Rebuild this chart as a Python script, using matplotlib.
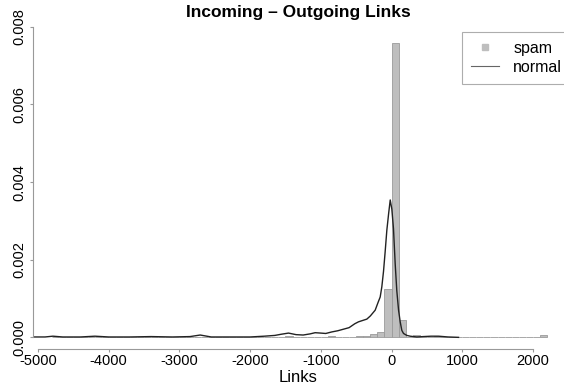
import numpy as np
import matplotlib
matplotlib.use('Agg')
import matplotlib.pyplot as plt
from matplotlib.lines import Line2D

plt.rcParams['font.family'] = ['Liberation Sans', 'DejaVu Sans']

# histogram of spam pages: bins of width 100 starting at -4800
bin_left = np.arange(-4800, 2200, 100)
spam_density = [
    0, 0, 0, 0, 0, 0, 0, 0, 0, 0,
    0, 0, 0, 0, 0, 0, 0, 0, 0, 0,
    0, 0, 0, 0, 0, 0, 0, 0, 0, 0,
    0, 0, 0, 0.00003, 0, 0.00002, 0, 0, 0, 0.00003,
    0, 0, 0, 0.00003, 0.00003, 0.00008, 0.00014, 0.00124, 0.00758, 0.00044,
    0, 0.00007, 0, 0, 0.00004, 0, 0, 0, 0, 0,
    0, 0, 0, 0, 0, 0, 0, 0, 0, 0.00005,
]

# density estimate for normal pages
normal_x = [-5070, -4900, -4790, -4650, -4400, -4195, -4000, -3700, -3400, -3100,
            -2850, -2706, -2550, -2300, -2000, -1800, -1650, -1560, -1457, -1350,
            -1250, -1150, -1080, -1000, -930, -844, -760, -680, -600, -520,
            -467, -400, -349, -300, -231, -190, -160, -137, -113, -90,
            -66, -40, -18, 5, 28, 52, 75, 100, 123, 146,
            170, 217, 264, 358, 450, 560, 665, 800, 948]
normal_y = [0.00001, 0.00001, 0.00003, 0.00001, 0.00001, 0.00003, 0.00001, 0.00001, 0.00002, 0.00001,
            0.00002, 0.00006, 0.00001, 0.00001, 0.00001, 0.00003, 0.00005, 0.00008, 0.00011, 0.00007,
            0.00006, 0.00009, 0.00012, 0.00011, 0.00010, 0.00014, 0.00017, 0.00021, 0.00025, 0.00035,
            0.0004, 0.00044, 0.00047, 0.00055, 0.0007, 0.0009, 0.00104, 0.0013, 0.0017, 0.0022,
            0.00276, 0.0032, 0.00354, 0.0033, 0.0028, 0.0019, 0.0012, 0.0007, 0.0004, 0.00018,
            0.0001, 0.00005, 0.00003, 0.00001, 0.00002, 0.00003, 0.00003, 0.00001, 0.0]

x_ticks = [-5000, -4000, -3000, -2000, -1000, 0, 1000, 2000]
y_ticks = [0.000, 0.002, 0.004, 0.006, 0.008]

fig = plt.figure(figsize=(5.64, 3.92), dpi=100)
ax = fig.add_axes([33 / 564, 1 - 349 / 392, 531 / 564, 326 / 392])

ax.bar(bin_left, spam_density, width=100, align='edge', color='#BEBEBE',
       edgecolor='#9A9A9A', linewidth=0.6)
ax.plot(normal_x, normal_y, color='#222222', linewidth=1.0)

ax.set_xlim(-5071, 2440)
ax.set_ylim(-0.0003, 0.0081)

for s in ['top', 'right']:
    ax.spines[s].set_visible(False)
for s in ['left', 'bottom']:
    ax.spines[s].set_color('#999999')
    ax.spines[s].set_linewidth(0.8)
ax.spines['left'].set_bounds(0, 0.008)
ax.spines['bottom'].set_bounds(-5000, 2000)

ax.set_xticks(x_ticks)
ax.set_xticklabels(['-5000', '-4000', '-3000', '-2000', '-1000', '0', '1000', '2000'])
ax.set_yticks(y_ticks)
ax.set_yticklabels(['0.000', '0.002', '0.004', '0.006', '0.008'], rotation=90, va='center')
ax.tick_params(axis='both', colors='#999999', labelcolor='black', length=2.5, width=0.8,
               labelsize=10.5)
ax.tick_params(axis='x', pad=1)
ax.tick_params(axis='y', pad=2)

fig.text(298 / 564, 1 - 13 / 392, 'Incoming \u2013 Outgoing Links', ha='center', va='center',
         fontsize=12.5, fontweight='bold')
fig.text(298 / 564, 1 - 378 / 392, 'Links', ha='center', va='center', fontsize=12)

handles = [Line2D([], [], linestyle='none', marker='s', markersize=4.5, color='#BEBEBE'),
           Line2D([], [], color='#666666', linewidth=0.8)]
leg = fig.legend(handles, ['spam', 'normal'], loc='upper left',
                 bbox_to_anchor=(462 / 564, 1 - 32 / 392), fontsize=11.5,
                 frameon=True, fancybox=False, handlelength=1.75, handletextpad=0.9,
                 labelspacing=0.25, borderpad=0.55, borderaxespad=0)
leg.get_frame().set_edgecolor('#999999')
leg.get_frame().set_linewidth(0.8)

fig.savefig('out.png', dpi=100)
